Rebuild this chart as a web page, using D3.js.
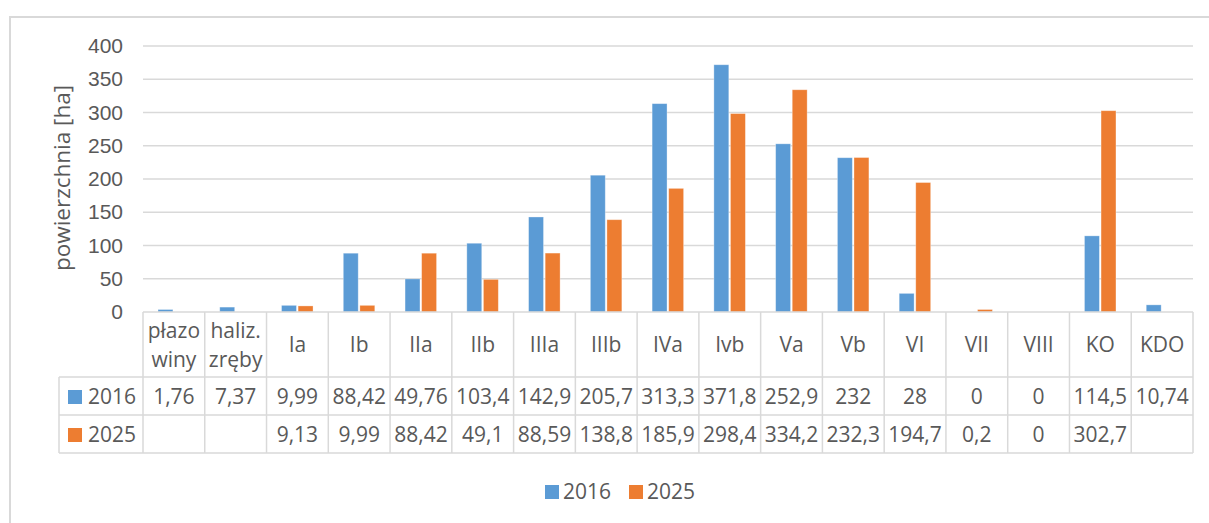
<!DOCTYPE html>
<html>
<head>
<meta charset="utf-8">
<script src="https://cdn.jsdelivr.net/npm/d3@7"></script>
<style>
  body { margin: 0; background: #fff; }
  svg { display: block; font-family: "Open Sans", "Noto Sans", sans-serif; }
</style>
</head>
<body>
<div id="chart"></div>
<script>
var width = 1209,
    height = 523;

// categories (with the line breaks used in the table header)
var categories = ["płazowiny", "haliz. zręby", "Ia", "Ib", "IIa", "IIb", "IIIa", "IIIb",
                  "IVa", "Ivb", "Va", "Vb", "VI", "VII", "VIII", "KO", "KDO"];
var categoryLines = [["płazo", "winy"], ["haliz.", "zręby"], ["Ia"], ["Ib"], ["IIa"], ["IIb"],
                     ["IIIa"], ["IIIb"], ["IVa"], ["Ivb"], ["Va"], ["Vb"], ["VI"], ["VII"],
                     ["VIII"], ["KO"], ["KDO"]];
var series = ["2016", "2025"];
var values2016 = [1.76, 7.37, 9.99, 88.42, 49.76, 103.4, 142.9, 205.7, 313.3, 371.8, 252.9, 232, 28, 0, 0, 114.5, 10.74];
var values2025 = [null, null, 9.13, 9.99, 88.42, 49.1, 88.59, 138.8, 185.9, 298.4, 334.2, 232.3, 194.7, 0.2, 0, 302.7, null];
var yTicks = [0, 50, 100, 150, 200, 250, 300, 350, 400];
var colors = { "2016": "#5b9bd5", "2025": "#ed7d31" };

var seriesValues = { "2016": values2016, "2025": values2025 };

var plotLeft = 143, plotRight = 1193, plotTop = 46, plotBase = 312;
var textColor = "#595959", lineColor = "#d9d9d9";
var fontSize = "21px";

var svg = d3.select("#chart").append("svg")
    .attr("width", width)
    .attr("height", height);

// outer chart frame
svg.append("rect")
    .attr("x", 10).attr("y", 17)
    .attr("width", 1220).attr("height", 540)
    .attr("fill", "#fff")
    .attr("stroke", lineColor)
    .attr("stroke-width", 2);

var x = d3.scaleBand()
    .domain(categories)
    .range([plotLeft, plotRight]);

var x1 = d3.scaleBand()
    .domain(series)
    .range([15, 46.5])
    .paddingInner(0.1);

var y = d3.scaleLinear()
    .domain([0, 400])
    .range([plotBase, plotTop]);

// gridlines
svg.append("g").selectAll("line")
    .data(yTicks.slice(1))
  .enter().append("line")
    .attr("x1", plotLeft).attr("x2", plotRight)
    .attr("y1", function(d) { return y(d); })
    .attr("y2", function(d) { return y(d); })
    .attr("stroke", lineColor)
    .attr("stroke-width", 1.3);

// y axis labels
var yAxis = svg.append("g")
    .attr("transform", "translate(" + (plotLeft - 20) + ",0)")
    .call(d3.axisLeft(y).tickValues(yTicks).tickSize(0).tickPadding(0));
yAxis.select(".domain").remove();
yAxis.selectAll("text")
    .attr("fill", textColor)
    .style("font-size", fontSize)
    .style("font-family", "inherit");

svg.append("text")
    .attr("transform", "translate(70,178) rotate(-90)")
    .attr("text-anchor", "middle")
    .attr("fill", textColor)
    .style("font-size", "22.5px")
    .text("powierzchnia [ha]");

// bars
var groups = svg.append("g").selectAll("g")
    .data(categories)
  .enter().append("g")
    .attr("transform", function(d) { return "translate(" + x(d) + ",0)"; });

groups.selectAll("rect")
    .data(function(d, i) {
      return series.map(function(s) { return { key: s, value: seriesValues[s][i] }; })
        .filter(function(e) { return e.value != null && e.value > 0; });
    })
  .enter().append("rect")
    .attr("x", function(d) { return x1(d.key); })
    .attr("width", x1.bandwidth())
    .attr("y", function(d) { return Math.min(y(d.value), plotBase - 2.5); })
    .attr("height", function(d) { return Math.max(2.5, plotBase - y(d.value)); })
    .attr("fill", function(d) { return colors[d.key]; })
    .attr("stroke", "#fff")
    .attr("stroke-opacity", 0.4)
    .attr("stroke-width", 0.8);

// data table
var rowTop = [plotBase, 377, 415, 453];
var tableLeft = 59;
var table = svg.append("g")
    .attr("stroke", lineColor)
    .attr("stroke-width", 1.5);

table.append("line").attr("x1", plotLeft).attr("x2", plotRight).attr("y1", plotBase).attr("y2", plotBase);
table.selectAll("line.h")
    .data(rowTop.slice(1))
  .enter().append("line")
    .attr("class", "h")
    .attr("x1", tableLeft).attr("x2", plotRight)
    .attr("y1", function(d) { return d; }).attr("y2", function(d) { return d; });

table.selectAll("line.v")
    .data(categories)
  .enter().append("line")
    .attr("class", "v")
    .attr("x1", function(d) { return x(d); })
    .attr("x2", function(d) { return x(d); })
    .attr("y1", plotBase).attr("y2", rowTop[3]);
table.append("line").attr("x1", plotRight).attr("x2", plotRight).attr("y1", plotBase).attr("y2", rowTop[3]);
table.append("line").attr("x1", tableLeft).attr("x2", tableLeft).attr("y1", rowTop[1]).attr("y2", rowTop[3]);

// header labels
svg.append("g").selectAll("text")
    .data(categories)
  .enter().append("text")
    .attr("text-anchor", "middle")
    .attr("fill", textColor)
    .style("font-size", fontSize)
    .each(function(d, i) {
      var lines = categoryLines[i];
      var cx = x(d) + x.bandwidth() / 2;
      var startY = 345 - (lines.length - 1) * 14.5;
      d3.select(this).selectAll("tspan")
        .data(lines)
      .enter().append("tspan")
        .attr("x", cx)
        .attr("y", function(l, j) { return startY + j * 29; })
        .attr("dy", "0.35em")
        .text(function(l) { return l; });
    });

function fmt(v) {
  if (v == null) return "";
  return String(v).replace(".", ",");
}

// value rows
series.forEach(function(s, k) {
  var cy = (rowTop[k + 1] + rowTop[k + 2]) / 2 + 1;
  var row = svg.append("g");
  row.append("rect")
    .attr("x", 68).attr("y", cy - 7)
    .attr("width", 14).attr("height", 14)
    .attr("fill", colors[s]);
  row.append("text")
    .attr("x", 88).attr("y", cy).attr("dy", "0.35em")
    .attr("fill", textColor)
    .style("font-size", fontSize)
    .text(s);
  row.selectAll("text.v")
    .data(seriesValues[s])
  .enter().append("text")
    .attr("class", "v")
    .attr("x", function(d, i) { return x(categories[i]) + x.bandwidth() / 2; })
    .attr("y", cy).attr("dy", "0.35em")
    .attr("text-anchor", "middle")
    .attr("fill", textColor)
    .style("font-size", fontSize)
    .text(fmt);
});

// legend
var legend = svg.append("g")
    .attr("transform", "translate(545,492)");
var item = legend.selectAll("g")
    .data(series)
  .enter().append("g")
    .attr("transform", function(d, i) { return "translate(" + (i * 84) + ",0)"; });
item.append("rect")
    .attr("x", 0).attr("y", -7)
    .attr("width", 14).attr("height", 14)
    .attr("fill", function(d) { return colors[d]; });
item.append("text")
    .attr("x", 18).attr("dy", "0.35em")
    .attr("fill", textColor)
    .style("font-size", fontSize)
    .text(function(d) { return d; });
</script>
</body>
</html>
